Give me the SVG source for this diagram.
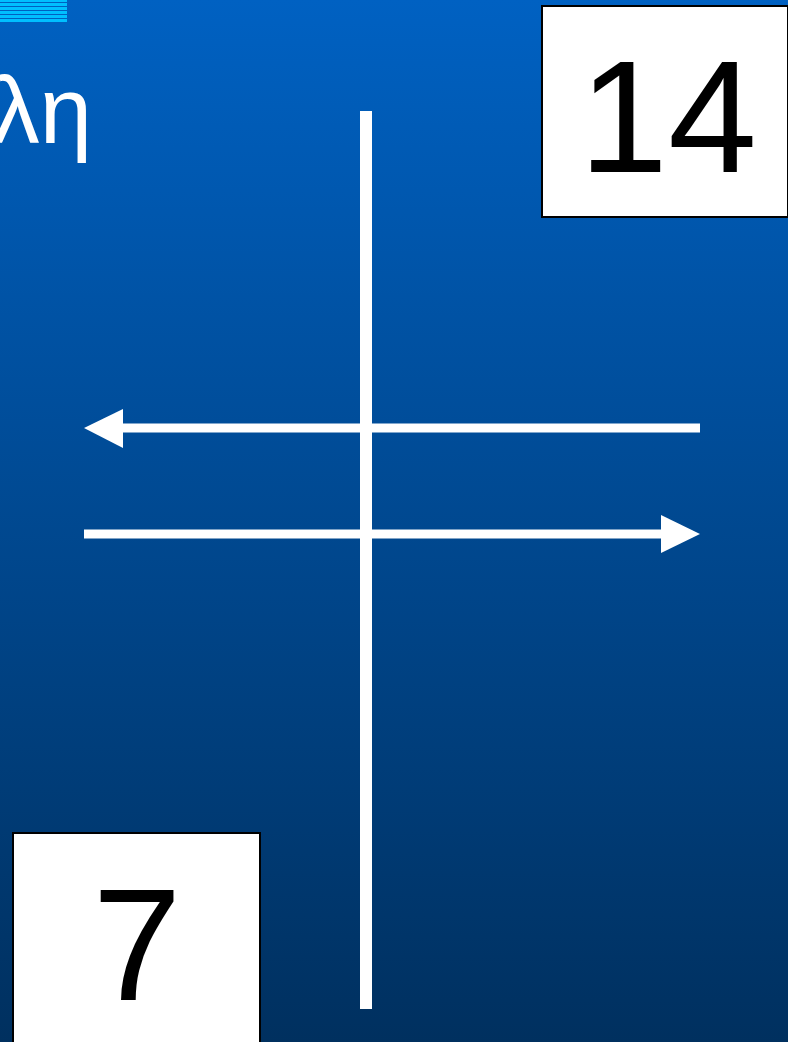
<svg xmlns="http://www.w3.org/2000/svg" width="788" height="1042" viewBox="0 0 788 1042">
  <defs>
    <linearGradient id="bg" x1="0" y1="0" x2="0" y2="1">
      <stop offset="0" stop-color="#0061C2"/>
      <stop offset="1" stop-color="#00305F"/>
    </linearGradient>
    <style>
      .box { fill: #FFFFFF; stroke: #000000; stroke-width: 2; }
      .num { font-family: "Liberation Sans", Arial, sans-serif; font-size: 160px; fill: #000000; text-anchor: middle; }
      .wline { stroke: #FFFFFF; fill: none; }
      .head { fill: #FFFFFF; }
    </style>
  </defs>
  <rect x="0" y="0" width="788" height="1042" fill="url(#bg)"/>
  <g id="stripes">
    <rect x="0" y="0" width="67" height="22" fill="#00BFFF"/>
    <g stroke="#0060C0" stroke-width="1">
      <line x1="0" y1="2.5" x2="67" y2="2.5"/>
      <line x1="0" y1="6.5" x2="67" y2="6.5"/>
      <line x1="0" y1="10.5" x2="67" y2="10.5"/>
      <line x1="0" y1="14.5" x2="67" y2="14.5"/>
      <line x1="0" y1="18.5" x2="67" y2="18.5"/>
    </g>
  </g>
  <g id="title">
    <text x="92" y="143" font-family="Liberation Sans, Arial, sans-serif" font-size="94" fill="#FFFFFF" text-anchor="end">λη</text>
  </g>
  <g id="connectors">
    <line class="wline" x1="366" y1="111" x2="366" y2="1009" stroke-width="12"/>
    <line class="wline" x1="120" y1="428" x2="700" y2="428" stroke-width="9"/>
    <polygon class="head" points="84,428 123,409 123,448"/>
    <line class="wline" x1="84" y1="534" x2="664" y2="534" stroke-width="9"/>
    <polygon class="head" points="700,534 661,515 661,553"/>
  </g>
  <g id="node-14">
    <rect class="box" x="542" y="6" width="246" height="211"/>
    <text class="num" x="668" y="172">14</text>
  </g>
  <g id="node-7">
    <rect class="box" x="13" y="833" width="247" height="215"/>
    <text class="num" x="137" y="1000">7</text>
  </g>
</svg>
